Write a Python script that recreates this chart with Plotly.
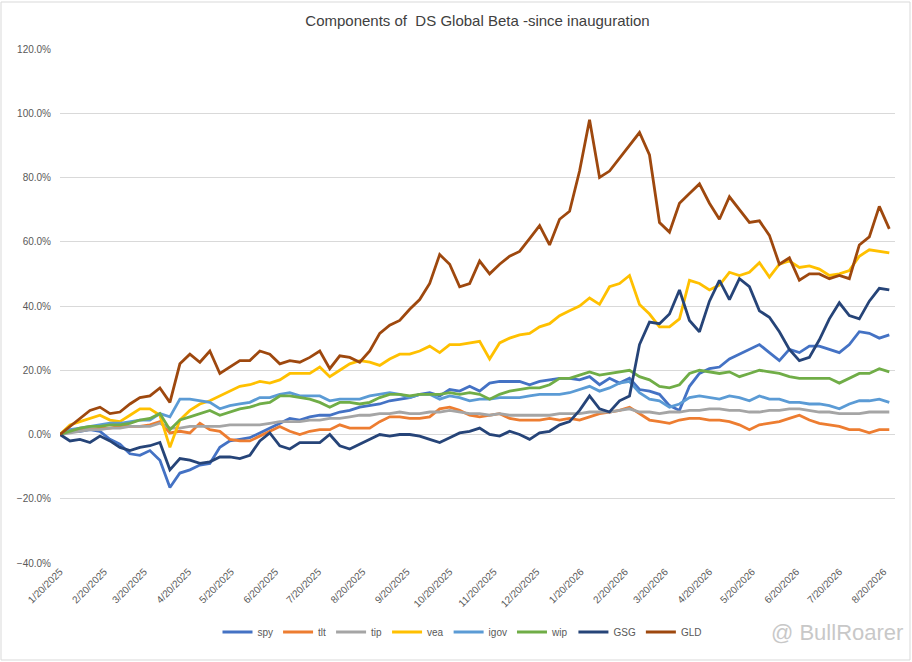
import pandas as pd
import plotly.graph_objs as go

# weekly readings (in %) from 1/20/2025
dates = pd.date_range("2025-01-20", periods=84, freq="7D")

tick_labels = ["1/20/2025", "2/20/2025", "3/20/2025", "4/20/2025", "5/20/2025",
               "6/20/2025", "7/20/2025", "8/20/2025", "9/20/2025", "10/20/2025",
               "11/20/2025", "12/20/2025", "1/20/2026", "2/20/2026", "3/20/2026",
               "4/20/2026", "5/20/2026", "6/20/2026", "7/20/2026", "8/20/2026"]

spy = [0, 1, 1, 1.5, 1, -1.5, -3, -6, -6.5, -5, -8, -16.5, -12, -11, -9.5, -9, -4, -2,
       -1.5, -1, 0.5, 2, 3.5, 5, 4.5, 5.5, 6, 6, 7, 7.5, 8.5, 9, 9.5, 10.5, 11, 11.5,
       12.5, 13, 12, 14, 13.5, 15, 13.5, 16, 16.5, 16.5, 16.5, 15.5, 16.5, 17, 17.5,
       17.5, 17, 18, 15.5, 17.5, 16, 17.5, 14, 13.5, 12.5, 9, 7.5, 15, 19, 20.5, 21,
       23.5, 25, 26.5, 28, 25.5, 23, 26.5, 25.5, 27.5, 27.5, 26.5, 25.5, 28, 32, 31.5,
       30, 31]
tlt = [0, 1, 1.5, 1.5, 2, 2, 2.5, 2.5, 2.5, 3, 4, 0.5, 1, 0.5, 3.5, 1.5, 1, -1.5, -2,
       -2, -0.5, 1, 2.5, 1, 0, 1, 1.5, 1.5, 3, 2, 2, 2, 4, 5.5, 5.5, 5, 5, 5.5, 8, 8.5,
       7.5, 6, 5.5, 6, 6.5, 5, 4.5, 4.5, 4.5, 5, 4.5, 5, 4.5, 5.5, 6.5, 7, 7.5, 8.5,
       6.5, 4.5, 4, 3.5, 4.5, 5, 5, 4.5, 4.5, 4, 3, 1.5, 3, 3.5, 4, 5, 6, 4.5, 3.5, 3,
       2.5, 1.5, 1.5, 0.5, 1.5, 1.5]
tip = [0, 0.5, 1, 1.5, 1.5, 2, 2, 2.5, 2.5, 2.5, 3.5, 2, 2, 2.5, 2.5, 2.5, 2.5, 3, 3,
       3, 3, 3.5, 4, 4, 4, 4.5, 4.5, 5, 5, 5.5, 6, 6, 6.5, 6.5, 7, 6.5, 6.5, 7, 7, 7.5,
       7, 6.5, 6.5, 6, 6.5, 6, 6, 6, 6, 6, 6.5, 6.5, 6.5, 7, 7, 7, 7.5, 8, 7, 7, 6.5, 7,
       7, 7.5, 7.5, 8, 8, 7.5, 7.5, 7, 7, 7.5, 7.5, 8, 8, 7.5, 7, 7, 6.5, 6.5, 6.5, 7,
       7, 7]
vea = [0, 3, 4, 5, 6, 4.5, 4, 6, 8, 8, 6, -4, 4.5, 7.5, 9.5, 10.5, 12, 13.5, 15, 15.5,
       16.5, 16, 17, 19, 19, 19, 21, 18, 20, 22, 23, 22.5, 21.5, 23.5, 25, 25, 26, 27.5,
       25.5, 28, 28, 28.5, 29, 23.5, 28.5, 30, 31, 31.5, 33.5, 34.5, 37, 38.5, 40, 42.5,
       40.5, 46, 47, 49.5, 40.5, 37.5, 33.5, 33.5, 36, 48, 47, 45, 46.5, 50.5, 49.5,
       50.5, 53.5, 49, 53, 54, 52, 52.5, 51.5, 49.5, 50, 51, 55.5, 57.5, 57, 56.5]
igov = [0, 1.5, 2, 2.5, 3, 3.5, 3.5, 4, 4.5, 4.5, 6.5, 5.5, 11, 11, 10.5, 10, 8, 9, 9.5,
        10, 11.5, 11.5, 12.5, 13, 12, 12, 12, 10.5, 11, 11, 11, 12, 12.5, 13, 12.5, 11.5,
        12.5, 12.5, 11, 12, 11.5, 10.5, 11, 11, 11.5, 11.5, 11.5, 12, 12.5, 12.5, 12.5,
        13, 14, 15, 13.5, 14.5, 16, 16.5, 13, 11, 10.5, 8.5, 9.5, 11.5, 12, 11.5, 11, 12,
        11.5, 10.5, 12, 11, 11, 10, 10, 9.5, 9.5, 9, 8, 9.5, 10.5, 10.5, 11, 10]
wip = [0, 1, 2, 2.5, 2.5, 3, 3, 3.5, 4.5, 5, 6.5, 1.5, 4.5, 5.5, 6.5, 7.5, 6, 7, 8, 8.5,
       9.5, 10, 12, 12, 11.5, 11, 10, 8.5, 10, 10, 9.5, 10, 11.5, 12.5, 12.5, 12, 12.5,
       12.5, 12.5, 13, 12.5, 13, 12.5, 11, 12.5, 13.5, 14, 14.5, 14.5, 15.5, 17.5, 17.5,
       18.5, 19.5, 18.5, 19, 19.5, 20, 18, 17, 15, 14.5, 15.5, 19, 20, 19.5, 19, 19.5,
       18, 19, 20, 19.5, 19, 18, 17.5, 17.5, 17.5, 17.5, 16, 17.5, 19, 19, 20.5, 19.5]
gsg = [0, -2, -1.5, -2.5, -0.5, -2, -4, -5, -4, -3.5, -2.5, -11, -7.5, -8, -9, -8.5,
       -7, -7, -7.5, -6.5, -2, 0.5, -3.5, -4.5, -2.5, -2.5, -2.5, 0, -3.5, -4.5, -3,
       -1.5, 0, -0.5, 0, 0, -0.5, -1.5, -2.5, -1, 0.5, 1, 2, 0, -0.5, 1, 0, -1.5, 0.5,
       1, 3, 4, 7.5, 12, 8, 7, 10.5, 12, 28, 35, 34.5, 37.5, 45, 35.5, 32, 41.5, 48, 42,
       48.5, 46, 38.5, 36.5, 32, 26.5, 23, 24, 29.5, 36, 41, 37, 36, 41.5, 45.5, 45]
gld = [0, 2.5, 5, 7.5, 8.5, 6.5, 7, 9.5, 11.5, 12, 14.5, 10, 22, 25, 22.5, 26, 19, 21,
       23, 23, 26, 25, 22, 23, 22.5, 24, 26, 20.5, 24.5, 24, 22.5, 26, 31.5, 34, 35.5,
       39, 42, 47, 56, 53, 46, 47, 54, 50, 53, 55.5, 57, 61, 65, 59, 67, 69.5, 82, 98,
       80, 82, 86, 90, 94, 87, 66, 63, 72, 75, 78, 72, 67, 74, 70, 66, 66.5, 62, 53, 55,
       48, 50, 50, 48.5, 49.5, 48.5, 59, 61.5, 71, 64]

names = ["spy", "tlt", "tip", "vea", "igov", "wip", "GSG", "GLD"]
series = [spy, tlt, tip, vea, igov, wip, gsg, gld]
colors = ["#4472C4", "#ED7D31", "#A5A5A5", "#FFC000", "#5B9BD5", "#70AD47",
          "#264478", "#9E480E"]

data = []
for name, vals, col in zip(names, series, colors):
    data.append(go.Scatter(x=dates, y=[v / 100 for v in vals], name=name,
                           mode="lines", line=dict(color=col, width=2.8)))

# plot area in pixels: x 60..895, y 49..563
W, H = 912, 662
L, R, T, B = 60, 895, 49, 563


def px(x):
    return (x - L) / (R - L)


def py_(y):
    return (B - y) / (B - T)


layout = go.Layout(
    width=W, height=H,
    margin=dict(l=L, r=W - R, t=T, b=H - B, autoexpand=False),
    paper_bgcolor="white", plot_bgcolor="white",
    font=dict(family="Liberation Sans, Arial", color="#595959", size=10),
    title=dict(text="Components of  DS Global Beta -since inauguration",
               x=0.5, xref="paper", y=1 - 21 / H, yanchor="middle",
               font=dict(size=15, color="#404040")),
    xaxis=dict(range=[pd.Timestamp("2025-01-20"), pd.Timestamp("2026-08-28")],
               tickvals=pd.to_datetime(tick_labels, format="%m/%d/%Y"),
               ticktext=tick_labels, tickangle=-45, showgrid=False,
               zeroline=False, showline=False, ticks="", automargin=False,
               tickfont=dict(size=10, color="#595959")),
    yaxis=dict(range=[-0.4, 1.2], dtick=0.2, tickformat=".1%",
               showgrid=True, gridcolor="#D9D9D9", gridwidth=1,
               zeroline=False, showline=False, ticks="", automargin=False,
               ticklabelstandoff=8,
               tickfont=dict(size=10, color="#595959")),
    legend=dict(orientation="h", x=px(462), xanchor="center", y=py_(632),
                yanchor="middle", font=dict(size=10, color="#595959"),
                itemwidth=30, tracegroupgap=0, bgcolor="rgba(0,0,0,0)"),
    showlegend=True,
    shapes=[dict(type="rect", xref="paper", yref="paper",
                 x0=px(1), x1=px(910), y0=py_(660), y1=py_(2),
                 line=dict(color="#D9D9D9", width=1))],
    annotations=[dict(text="@ BullRoarer", xref="paper", yref="paper",
                      x=px(905), y=py_(632), xanchor="right", yanchor="middle",
                      showarrow=False,
                      font=dict(size=22, color="#C8C8C8",
                                family="Liberation Sans"))],
)

fig = go.Figure(data=data, layout=layout)
fig.write_html("out.html", config={"displayModeBar": False},
               post_script="document.body.style.margin='0px';"
                           "document.body.style.overflow='hidden';")
